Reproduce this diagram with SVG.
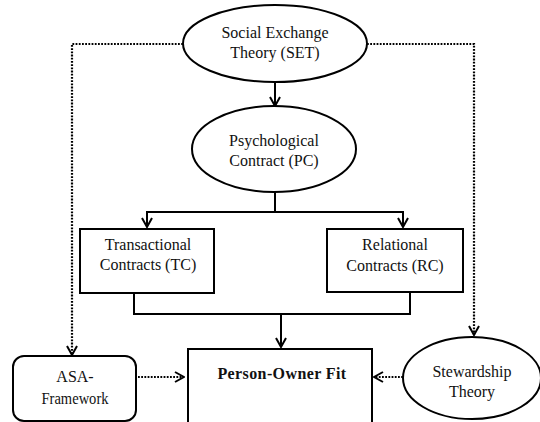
<svg xmlns="http://www.w3.org/2000/svg" width="540" height="422" viewBox="0 0 540 422">
<defs>
<style>
.shape{fill:#fff;stroke:#000;stroke-width:2}
.t{font-family:'Liberation Serif','DejaVu Serif',serif;font-size:16px;fill:#111;text-anchor:middle}
.b{font-weight:bold;letter-spacing:0.4px}
.solid{fill:none;stroke:#000;stroke-width:2}
.dot{fill:none;stroke:#000;stroke-width:2.2;stroke-dasharray:1.8 1.4}
</style>
<marker id="ah" viewBox="0 0 12 12" refX="11" refY="6" markerWidth="12" markerHeight="12" markerUnits="userSpaceOnUse" orient="auto">
<path d="M2,1 L11,6 L2,11" fill="none" stroke="#000" stroke-width="2"/>
</marker>
</defs>
<rect width="540" height="422" fill="#fff"/>
<g id="connectors">
<line class="solid" x1="275" y1="82" x2="275" y2="106" marker-end="url(#ah)"/>
<polyline class="solid" points="275,192 275,212 147,212 147,227" marker-end="url(#ah)"/>
<polyline class="solid" points="275,212 403,212 403,227" marker-end="url(#ah)"/>
<polyline class="solid" points="134,293 134,314 410,314 410,292"/>
<line class="solid" x1="281" y1="314" x2="281" y2="347" marker-end="url(#ah)"/>
<polyline class="dot" points="183,44 72,44 72,355" marker-end="url(#ah)"/>
<polyline class="dot" points="367,44 474,44 474,335" marker-end="url(#ah)"/>
<line class="dot" x1="138" y1="377" x2="184" y2="377" marker-end="url(#ah)"/>
<line class="dot" x1="403" y1="377" x2="374" y2="377" marker-end="url(#ah)"/>
</g>
<g font-family="'Liberation Serif', 'DejaVu Serif', serif">
<g id="set">
<ellipse class="shape" cx="275" cy="43.5" rx="92" ry="38.5"/>
<text class="t" x="275" y="38" font-family="Liberation Serif">Social Exchange</text>
<text class="t" x="275" y="58" font-family="Liberation Serif">Theory (SET)</text>
</g>
<g id="pc">
<ellipse class="shape" cx="274" cy="149" rx="82" ry="43"/>
<text class="t" x="274" y="146">Psychological</text>
<text class="t" x="274" y="166">Contract (PC)</text>
</g>
<g id="tc">
<rect class="shape" x="80" y="229" width="134" height="64"/>
<text class="t" x="148" y="250">Transactional</text>
<text class="t" x="148" y="270">Contracts (TC)</text>
</g>
<g id="rc">
<rect class="shape" x="327" y="229" width="136" height="63"/>
<text class="t" x="395" y="250">Relational</text>
<text class="t" x="395" y="271">Contracts (RC)</text>
</g>
<g id="pof">
<rect class="shape" x="188" y="349" width="184" height="80"/>
<text class="t b" x="282" y="379">Person-Owner Fit</text>
</g>
<g id="asa">
<rect class="shape" x="13" y="356" width="123" height="65" rx="11" ry="11"/>
<text class="t" x="75" y="382">ASA-</text>
<text class="t" x="75" y="404" textLength="67" lengthAdjust="spacingAndGlyphs">Framework</text>
</g>
<g id="stewardship">
<ellipse class="shape" cx="472" cy="378" rx="69" ry="41"/>
<text class="t" x="472" y="377">Stewardship</text>
<text class="t" x="472" y="397">Theory</text>
</g>
</g>
</svg>
